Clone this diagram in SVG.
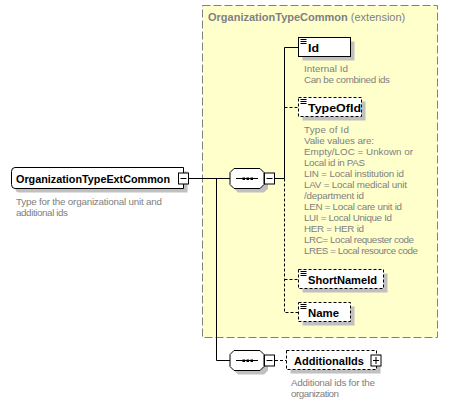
<svg xmlns="http://www.w3.org/2000/svg" width="456" height="404" viewBox="0 0 456 404">
<style>
.name{font-family:"Liberation Sans",Arial,sans-serif;font-size:11.5px;font-weight:bold;fill:#000}
.desc{font-family:"Liberation Sans",Arial,sans-serif;font-size:9.8px;fill:#808080}
.title{font-family:"Liberation Sans",Arial,sans-serif;font-size:11px;fill:#808080}
.box{fill:#fff;stroke:#000;stroke-width:1}
.opt{fill:#fff;stroke:#000;stroke-width:1;stroke-dasharray:3,2}
.shadow{fill:#c0c0c0;stroke:none}
.line{stroke:#000;stroke-width:1;fill:none}
.dash{stroke:#000;stroke-width:1;fill:none;stroke-dasharray:3,2}
.icon{stroke:#000;stroke-width:1}
</style>
<defs>
<g id="minus"><rect x="0" y="0" width="10" height="11" fill="#fff" stroke="#000"/><line x1="2" y1="5.5" x2="8" y2="5.5" stroke="#000"/></g>
<g id="plus"><rect x="0" y="0" width="10" height="11" fill="#fff" stroke="#000"/><line x1="2" y1="5.5" x2="8" y2="5.5" stroke="#000"/><line x1="5" y1="2" x2="5" y2="9" stroke="#000"/></g>
<g id="lines"><line x1="0" y1="0" x2="6" y2="0" class="icon"/><line x1="0" y1="2" x2="6" y2="2" class="icon"/><line x1="0" y1="4" x2="6" y2="4" class="icon"/></g>
<g id="seq">
<path d="M4,0 H30 L34,4 V16 L30,20 H4 L0,16 V4 Z" transform="translate(4,4)" class="shadow"/>
<path d="M4,0 H30 L34,4 V16 L30,20 H4 L0,16 V4 Z" fill="#fff" stroke="#000"/>
<line x1="6" y1="10" x2="28" y2="10" stroke="#000"/>
<rect x="12.5" y="9" width="2.5" height="2.5" fill="#000"/>
<rect x="16.5" y="9" width="2.5" height="2.5" fill="#000"/>
<rect x="20.5" y="9" width="2.5" height="2.5" fill="#000"/>
</g>
</defs>

<g id="extension">
<rect x="202.5" y="5.5" width="235" height="332" fill="#ffffcc" stroke="#808080" stroke-dasharray="8,3"/>
<text x="208" y="21" class="title"><tspan font-weight="bold">OrganizationTypeCommon</tspan> (extension)</text>
</g>

<g id="connectors">
<polyline class="line" points="188.5,178.5 230,178.5"/>
<polyline class="line" points="216.5,178.5 216.5,360.5 230,360.5"/>
<polyline class="line" points="275,178.5 284.5,178.5"/>
<polyline class="line" points="299,47.5 284.5,47.5 284.5,178.5"/>
<polyline class="dash" points="284.5,178.5 284.5,312.5 299,312.5"/>
<polyline class="dash" points="284.5,107.5 299,107.5"/>
<polyline class="dash" points="284.5,279.5 299,279.5"/>
<polyline class="dash" points="275,360.5 286.5,360.5"/>
</g>

<g id="root">
<path d="M15,167.5 H183.5 V188.5 H15 Q11.5,188.5 11.5,184.5 V171.5 Q11.5,167.5 15,167.5 Z" transform="translate(4,4)" class="shadow"/>
<path d="M15,167.5 H183.5 V188.5 H15 Q11.5,188.5 11.5,184.5 V171.5 Q11.5,167.5 15,167.5 Z" class="box"/>
<text x="16" y="183" class="name" textLength="154" lengthAdjust="spacingAndGlyphs">OrganizationTypeExtCommon</text>
<use href="#minus" x="178.5" y="173"/>
<text class="desc"><tspan x="16" y="204.5" textLength="146">Type for the organizational unit and</tspan><tspan x="16" y="215.5" textLength="52">additional ids</tspan></text>
</g>

<g id="sequence1">
<use href="#seq" x="230" y="168.5"/>
<use href="#minus" x="264.5" y="173"/>
</g>

<g id="Id">
<rect x="302.5" y="41.5" width="52" height="19" class="shadow"/>
<rect x="298.5" y="37.5" width="52" height="19" class="box"/>
<use href="#lines" x="300.5" y="39.5"/>
<text x="308" y="52" class="name" textLength="11" lengthAdjust="spacingAndGlyphs">Id</text>
<text class="desc"><tspan x="304" y="72" textLength="44">Internal Id</tspan><tspan x="304" y="83" textLength="86">Can be combined ids</tspan></text>
</g>

<g id="TypeOfId">
<rect x="302.5" y="101.5" width="63" height="19" class="shadow"/>
<rect x="298.5" y="97.5" width="63" height="19" class="opt"/>
<use href="#lines" x="300.5" y="99.5"/>
<text x="308" y="112" class="name" textLength="53" lengthAdjust="spacingAndGlyphs">TypeOfId</text>
<text class="desc">
<tspan x="304" y="133" textLength="45">Type of Id</tspan>
<tspan x="304" y="144" textLength="70">Valie values are:</tspan>
<tspan x="304" y="155" textLength="109">Empty/LOC = Unkown or</tspan>
<tspan x="304" y="166" textLength="61">Local id in PAS</tspan>
<tspan x="304" y="177" textLength="100">LIN = Local institution id</tspan>
<tspan x="304" y="188" textLength="103">LAV = Local medical unit</tspan>
<tspan x="304" y="199" textLength="60">/department id</tspan>
<tspan x="304" y="210" textLength="98">LEN = Local care unit id</tspan>
<tspan x="304" y="221" textLength="88">LUI = Local Unique Id</tspan>
<tspan x="304" y="232" textLength="60">HER = HER id</tspan>
<tspan x="304" y="243" textLength="110">LRC= Local requester code</tspan>
<tspan x="304" y="254" textLength="114">LRES = Local resource code</tspan>
</text>
</g>

<g id="ShortNameId">
<rect x="302.5" y="273.5" width="85" height="19" class="shadow"/>
<rect x="298.5" y="269.5" width="85" height="19" class="opt"/>
<use href="#lines" x="300.5" y="271.5"/>
<text x="308" y="284" class="name" textLength="69" lengthAdjust="spacingAndGlyphs">ShortNameId</text>
</g>

<g id="Name">
<rect x="302.5" y="306.5" width="52" height="19" class="shadow"/>
<rect x="298.5" y="302.5" width="52" height="19" class="opt"/>
<use href="#lines" x="300.5" y="304.5"/>
<text x="308" y="317" class="name" textLength="31" lengthAdjust="spacingAndGlyphs">Name</text>
</g>

<g id="sequence2">
<use href="#seq" x="230" y="350.5"/>
<use href="#minus" x="264.5" y="355"/>
</g>

<g id="AdditionalIds">
<rect x="290.5" y="354.5" width="90" height="19" class="shadow"/>
<rect x="286.5" y="350.5" width="90" height="19" class="opt"/>
<text x="294" y="365" class="name" textLength="70" lengthAdjust="spacingAndGlyphs">AdditionalIds</text>
<use href="#plus" x="371" y="355"/>
<text class="desc"><tspan x="291" y="386" textLength="84">Additional ids for the</tspan><tspan x="291" y="397" textLength="48">organization</tspan></text>
</g>
</svg>
